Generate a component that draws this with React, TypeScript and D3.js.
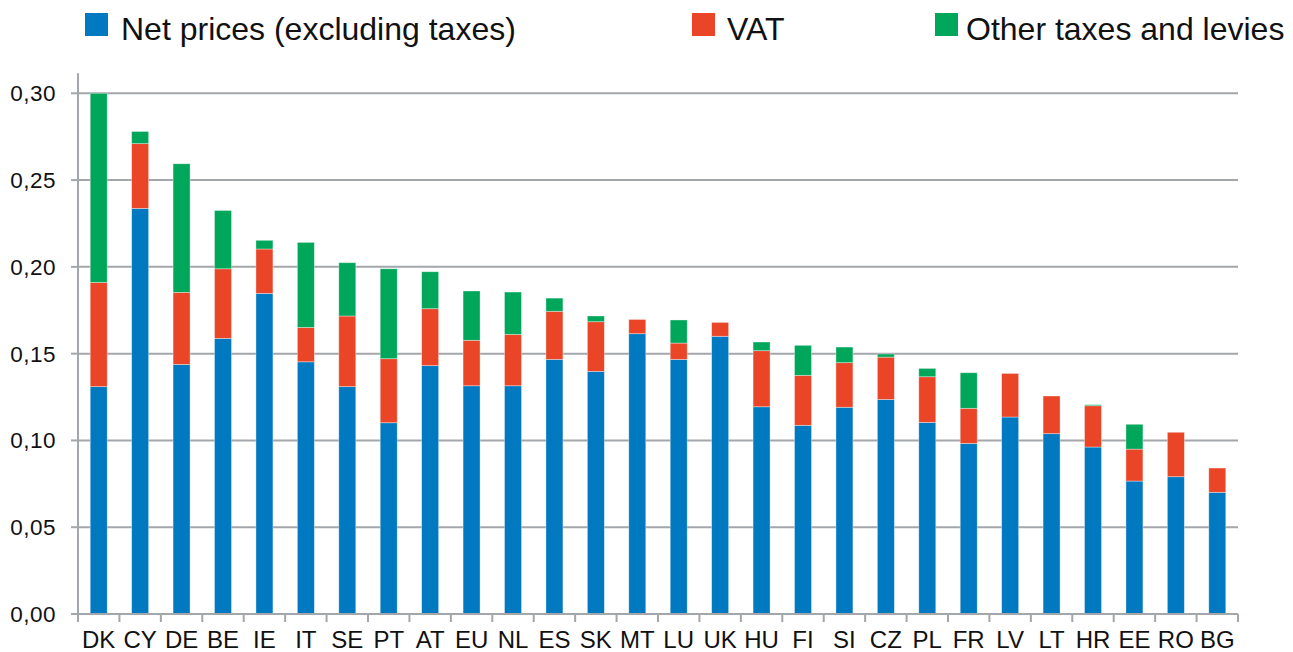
import React from "react";
import * as d3 from "d3";

const categories = ["DK","CY","DE","BE","IE","IT","SE","PT","AT","EU","NL","ES","SK","MT","LU","UK","HU","FI","SI","CZ","PL","FR","LV","LT","HR","EE","RO","BG"];
const netPrices = [0.131,0.2337,0.1438,0.1588,0.1847,0.1453,0.131,0.1102,0.1431,0.1315,0.1315,0.1467,0.1398,0.1615,0.1467,0.160,0.1194,0.1087,0.1191,0.1236,0.1104,0.0983,0.1135,0.1039,0.0962,0.0766,0.0791,0.0701];
const vat = [0.060,0.0373,0.0415,0.0401,0.0256,0.0198,0.0407,0.0369,0.0328,0.0262,0.0296,0.0277,0.0286,0.0082,0.0094,0.008,0.0323,0.0288,0.0257,0.0244,0.0263,0.0202,0.0251,0.0217,0.0238,0.0184,0.0256,0.014];
const otherTaxes = [0.109,0.007,0.0741,0.0336,0.005,0.049,0.0307,0.0518,0.0213,0.0284,0.0244,0.0076,0.0033,0,0.0133,0,0.005,0.0173,0.009,0.0018,0.0048,0.0205,0,0,0.0006,0.0143,0,0];
const yTicks = [0,0.05,0.1,0.15,0.2,0.25,0.3];
const seriesNames = ["Net prices (excluding taxes)","VAT","Other taxes and levies"];
const seriesColors = ["#0079C1","#EA4527","#00A65A"];

export default function App() {
  const W = 1293, H = 652;
  const left = 78, right = 1238, top = 93.3, bottom = 614;
  const x = d3.scaleBand<string>().domain(categories).range([left, right]).paddingInner(0).paddingOuter(0);
  const y = d3.scaleLinear().domain([0, 0.3]).range([bottom, top]);
  const barW = 17;
  const rows = categories.map((c, i) => ({ cat: c, net: netPrices[i], vat: vat[i], other: otherTaxes[i] }));
  const stack = d3.stack<any>().keys(["net", "vat", "other"])(rows);
  const fmt = (v: number) => d3.format(".2f")(v).replace(".", ",");
  const font = "'Liberation Sans', Arial, sans-serif";
  const legendX = [85, 692, 935];
  const legendGap = [36, 35, 31];
  const step = x.step();
  const boundaries = d3.range(categories.length + 1).map(i => left + i * step);
  return (
    <svg width={W} height={H} style={{ position: "absolute", left: 0, top: 0, background: "#fff" }} fontFamily={font}>
      {yTicks.map(t => (
        <g key={t}>
          {t > 0 && <line x1={left} x2={right} y1={y(t)} y2={y(t)} stroke="#A3A6AA" strokeWidth={2} />}
          <line x1={71} x2={left} y1={y(t)} y2={y(t)} stroke="#A3A6AA" strokeWidth={2} />
          <text x={56} y={y(t)} dy="0.35em" textAnchor="end" fontSize={22.5} letterSpacing={0.5} fill="#111">{fmt(t)}</text>
        </g>
      ))}
      {stack.map((s, si) => (
        <g key={si} fill={seriesColors[si]}>
          {s.map((d, i) => d[1] - d[0] > 0 ? (
            <rect key={i} x={(x(categories[i]) as number) + (step - barW) / 2} y={y(d[1])} width={barW} height={y(d[0]) - y(d[1])} stroke="#ffffff" strokeOpacity={0.45} strokeWidth={0.8} />
          ) : null)}
        </g>
      ))}
      <line x1={left} x2={left} y1={top - 20} y2={bottom} stroke="#A3A6AA" strokeWidth={2} />
      <line x1={left} x2={right} y1={bottom} y2={bottom} stroke="#A3A6AA" strokeWidth={2} />
      {boundaries.map((b, i) => (
        <line key={i} x1={b} x2={b} y1={bottom} y2={bottom + 8} stroke="#A3A6AA" strokeWidth={2} />
      ))}
      {categories.map(c => (
        <text key={c} x={(x(c) as number) + step / 2} y={648} textAnchor="middle" fontSize={24} fill="#111">{c}</text>
      ))}
      {seriesNames.map((n, i) => (
        <g key={n}>
          <rect x={legendX[i]} y={13} width={23} height={23} fill={seriesColors[i]} />
          <text x={legendX[i] + legendGap[i]} y={40} fontSize={32} fill="#111">{n}</text>
        </g>
      ))}
    </svg>
  );
}
